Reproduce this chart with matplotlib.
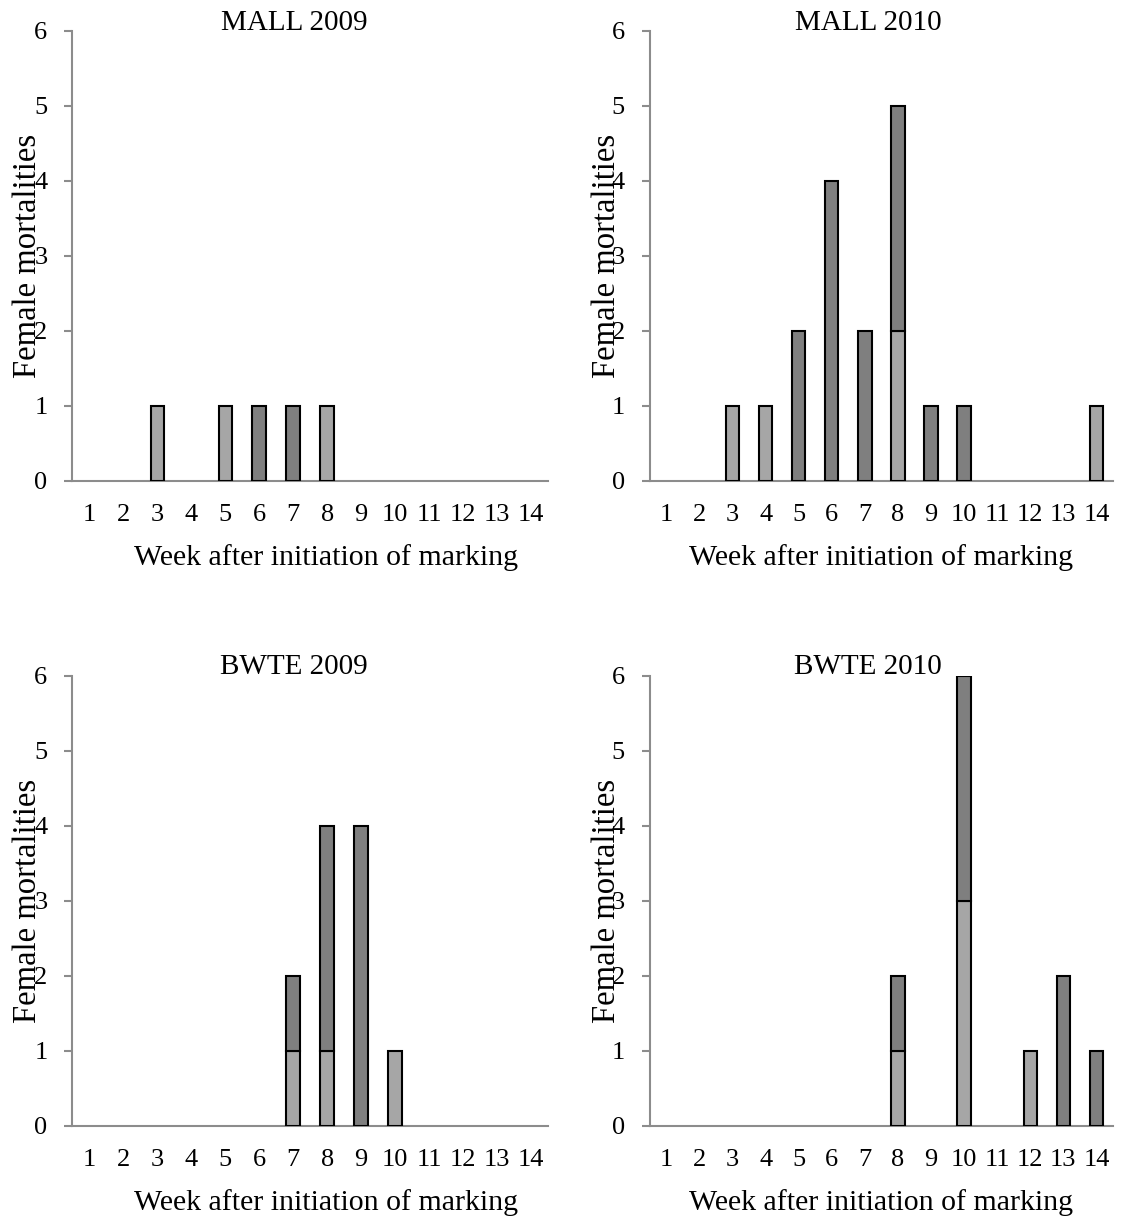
import numpy as np
from matplotlib import pyplot as plt

# weeks 1..14
weeks = list(range(1, 15))
week_labels = [str(w) for w in weeks]

titles = ['MALL 2009', 'MALL 2010', 'BWTE 2009', 'BWTE 2010']

# lower (light gray) segment of each stacked bar
light = [
    [0, 0, 1, 0, 1, 0, 0, 1, 0, 0, 0, 0, 0, 0],
    [0, 0, 1, 1, 0, 0, 0, 2, 0, 0, 0, 0, 0, 1],
    [0, 0, 0, 0, 0, 0, 1, 1, 0, 1, 0, 0, 0, 0],
    [0, 0, 0, 0, 0, 0, 0, 1, 0, 3, 0, 1, 0, 0],
]
# upper (dark gray) segment
dark = [
    [0, 0, 0, 0, 0, 1, 1, 0, 0, 0, 0, 0, 0, 0],
    [0, 0, 0, 0, 2, 4, 2, 3, 1, 1, 0, 0, 0, 0],
    [0, 0, 0, 0, 0, 0, 1, 3, 4, 0, 0, 0, 0, 0],
    [0, 0, 0, 0, 0, 0, 0, 1, 0, 3, 0, 0, 2, 1],
]

plt.rcParams['font.family'] = ['Liberation Serif', 'DejaVu Serif']

fig = plt.figure(figsize=(11.27, 12.18), dpi=100)

# axes boxes [left, bottom, width, height] in figure fractions
boxes = [
    [0.0643, 0.6053, 0.4219, 0.3695],
    [0.5767, 0.6053, 0.4108, 0.3695],
    [0.0643, 0.0759, 0.4219, 0.3695],
    [0.5767, 0.0759, 0.4108, 0.3695],
]
title_x = [0.466, 0.471, 0.466, 0.471]
xlab_x = [0.533, 0.499, 0.533, 0.499]

axis_col = '#8c8c8c'
x = np.arange(len(weeks))

for i in range(4):
    ax = fig.add_axes(boxes[i])
    lo = np.array(light[i])
    hi = np.array(dark[i])
    # only draw segments that exist so empty weeks stay blank
    ax.bar(x[lo > 0], lo[lo > 0], width=0.4, color='#a6a6a6',
           edgecolor='black', linewidth=1.5, zorder=3)
    ax.bar(x[hi > 0], hi[hi > 0], width=0.4, bottom=lo[hi > 0],
           color='#7f7f7f', edgecolor='black', linewidth=1.5, zorder=3)

    ax.set_xlim(-0.5, 13.5)
    ax.set_ylim(0, 6)
    ax.set_yticks(range(0, 7))
    ax.set_xticks(x)
    ax.set_xticklabels(week_labels)

    for s in ['top', 'right']:
        ax.spines[s].set_visible(False)
    ax.spines['left'].set_color(axis_col)
    ax.spines['bottom'].set_color(axis_col)
    ax.spines['left'].set_linewidth(1.5)
    ax.spines['bottom'].set_linewidth(1.5)

    ax.tick_params(axis='y', length=6, width=1.5, color=axis_col,
                   labelsize=19, pad=12)
    ax.tick_params(axis='x', length=0, labelsize=19, pad=17)

    ax.text(title_x[i], 1.018, titles[i], transform=ax.transAxes,
            ha='center', va='center', fontsize=21)
    ax.set_ylabel('Female mortalities', fontsize=23.5, va='center')
    ax.yaxis.set_label_coords(-0.093, 0.5)
    ax.set_xlabel('Week after initiation of marking', fontsize=21.5, va='center')
    ax.xaxis.set_label_coords(xlab_x[i], -0.17)

fig.savefig('out.png', dpi=100)
